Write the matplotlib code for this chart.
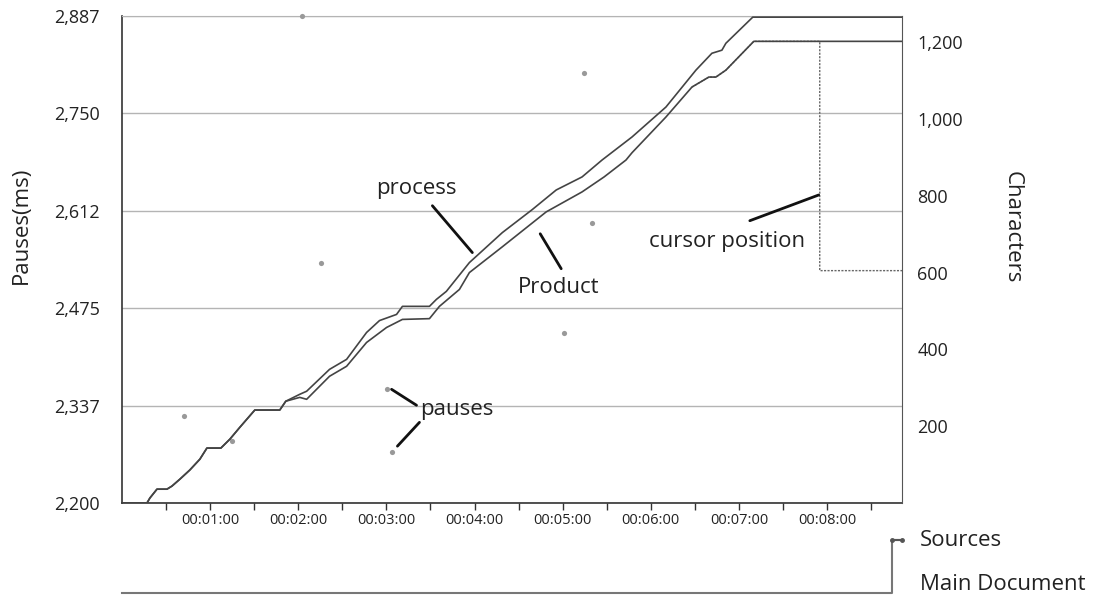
import matplotlib
matplotlib.use('Agg')
import matplotlib.pyplot as plt
import numpy as np

plt.rcParams['font.family'] = ['Open Sans', 'DejaVu Sans']

# ---------------- data ----------------
process_time = [0, 17.0, 19.0, 23.8, 30.6, 34.0, 39.4, 46.2, 53.0, 57.8, 67.3, 73.4, 80.2,
                90.4, 107.4, 111.5, 121.0, 125.7, 141.3, 152.9, 166.5, 175.3, 186.9,
                190.9, 209.3, 214.0, 220.8, 236.5, 258.9, 279.3, 295.6, 313.2, 326.8,
                347.2, 370.3, 390.7, 401.6, 408.4, 411.1, 429.4, 531]
process_chars = [0, 0, 13, 36, 36, 44, 62, 86, 114, 143, 143, 166, 197,
                 242, 242, 265, 283, 291, 348, 374, 444, 475, 491,
                 512, 512, 530, 551, 626, 704, 764, 815, 849, 893,
                 953, 1031, 1127, 1171, 1179, 1197, 1265, 1265]

product_time = [0, 17.0, 19.0, 23.8, 30.6, 34.0, 39.4, 46.2, 53.0, 57.8, 67.3, 73.4, 80.2,
                90.4, 107.4, 111.5, 121.0, 125.7, 141.3, 152.9, 166.5, 180.1, 190.9,
                209.3, 216.1, 229.7, 236.5, 258.9, 288.8, 313.2, 328.2, 343.1, 347.2,
                370.3, 388.0, 399.5, 404.3, 411.1, 430.1, 531]
product_chars = [0, 0, 13, 36, 36, 44, 62, 86, 114, 143, 143, 166, 197,
                 242, 242, 265, 275, 270, 330, 356, 418, 457, 478,
                 480, 512, 556, 600, 667, 758, 810, 849, 893, 912,
                 1005, 1083, 1109, 1109, 1127, 1202, 1202]

cursor_time = [388.0, 399.5, 404.3, 411.1, 430.1, 475.0, 475.0, 531]
cursor_chars = [1083, 1109, 1109, 1127, 1202, 1202, 605, 605]

pause_time = [42.1, 74.7, 122.3, 135.2, 180.1, 183.5, 301.0, 314.4, 320.0]
pause_ms = [2323, 2287, 2887, 2539, 2361, 2272, 2440, 2807, 2595]

source_time = [0, 524, 524, 530.7]
source_state = [0, 0, 1, 1]

pause_tick_labels = ['2,200', '2,337', '2,475', '2,612', '2,750', '2,887']
char_ticks = [200, 400, 600, 800, 1000, 1200]
char_tick_labels = ['200', '400', '600', '800', '1,000', '1,200']
minute_labels = ['00:01:00', '00:02:00', '00:03:00', '00:04:00',
                 '00:05:00', '00:06:00', '00:07:00', '00:08:00']

# ---------------- figure ----------------
fig = plt.figure(figsize=(11.01, 5.97), dpi=100)
L, R = 122 / 1101, 902 / 1101
B, T = 1 - 503 / 597, 1 - 16 / 597
ax = fig.add_axes([L, B, R - L, T - B])
ax2 = ax.twinx()

XMAX = 531
ax.set_xlim(0, XMAX)
ax.set_ylim(2200, 2887)
ax2.set_ylim(0, 1268)

ax.set_yticks(np.linspace(2200, 2887, len(pause_tick_labels)))
ax.set_yticklabels(pause_tick_labels)
ax.yaxis.grid(True, color='#b4b4b4', lw=1)
ax.set_axisbelow(True)

xt = np.arange(30, XMAX, 30)
ax.set_xticks(xt)
labels = []
mi = 0
for v in xt:
    if v % 60 == 0:
        labels.append(minute_labels[mi]); mi += 1
    else:
        labels.append('')
ax.set_xticklabels(labels)

ax.tick_params(axis='y', length=0, labelsize=13, pad=16, labelcolor='#222')
ax.tick_params(axis='x', length=5, width=1, color='#333', labelsize=10.5, pad=2, labelcolor='#222')
ax2.set_yticks(char_ticks)
ax2.set_yticklabels(char_tick_labels)
ax2.tick_params(axis='y', length=0, labelsize=13, pad=11, labelcolor='#222')

for s in ['left', 'bottom']:
    ax.spines[s].set_color('#333'); ax.spines[s].set_linewidth(1.2)
ax.spines['top'].set_color('#b4b4b4')
ax.spines['right'].set_visible(False)
for s in ['left', 'bottom', 'top']:
    ax2.spines[s].set_visible(False)
ax2.spines['right'].set_color('#555')

# pauses
ax.scatter(pause_time, pause_ms, s=14, color='#999999', zorder=5, clip_on=False, linewidths=0)

# lines
ax2.plot(cursor_time, cursor_chars, color='#666', lw=1, ls=(0, (1.5, 1)), zorder=3)
ax2.plot(product_time, product_chars, color='#444', lw=1.2, zorder=4)
ax2.plot(process_time, process_chars, color='#444', lw=1.2, zorder=4)

# annotations
ann = dict(arrowstyle='-', lw=2, color='#111', shrinkA=0, shrinkB=0)
ax2.text(200.5, 818, 'process', ha='center', va='center', fontsize=16, color='#222')
ax2.annotate('', xy=(238.5, 652), xytext=(211.3, 774), arrowprops=ann)
ax2.text(297.6, 561, 'Product', ha='center', va='center', fontsize=16, color='#222')
ax2.annotate('', xy=(284.7, 701), xytext=(299.0, 610), arrowprops=ann)
ax2.text(411.8, 680, 'cursor position', ha='center', va='center', fontsize=16, color='#222')
ax2.annotate('', xy=(474.3, 802), xytext=(427.4, 735), arrowprops=ann)
ax2.text(227.6, 244, 'pauses', ha='center', va='center', fontsize=16, color='#222')
ax2.annotate('', xy=(183.5, 296), xytext=(200.5, 254.5), arrowprops=ann)
ax2.annotate('', xy=(187.5, 148), xytext=(202.5, 210), arrowprops=ann)

# axis titles
fig.text(21 / 1101, 1 - 225 / 597, 'Pauses(ms)', rotation=90, ha='center', va='center',
         fontsize=16, color='#222')
fig.text(1012 / 1101, 1 - 227 / 597, 'Characters', rotation=270, ha='center', va='center',
         fontsize=16, color='#222')

# bottom source panel
ax3 = fig.add_axes([L, 0.0, R - L, 67 / 597])
ax3.set_xlim(0, XMAX)
ax3.set_ylim(-0.0755, 1.189)
ax3.axis('off')
ax3.plot(source_time, source_state, color='#777', lw=1.5, clip_on=False)
ax3.plot(source_time[2:], source_state[2:], color='#555', lw=1.5, marker='o', ms=2.5,
         markevery=1, clip_on=False)
fig.text(920 / 1101, 1 - 540 / 597, 'Sources', ha='left', va='center', fontsize=16, color='#222')
fig.text(920 / 1101, 1 - 585 / 597, 'Main Document', ha='left', va='center', fontsize=16, color='#222')

fig.savefig('out.png', dpi=100)
